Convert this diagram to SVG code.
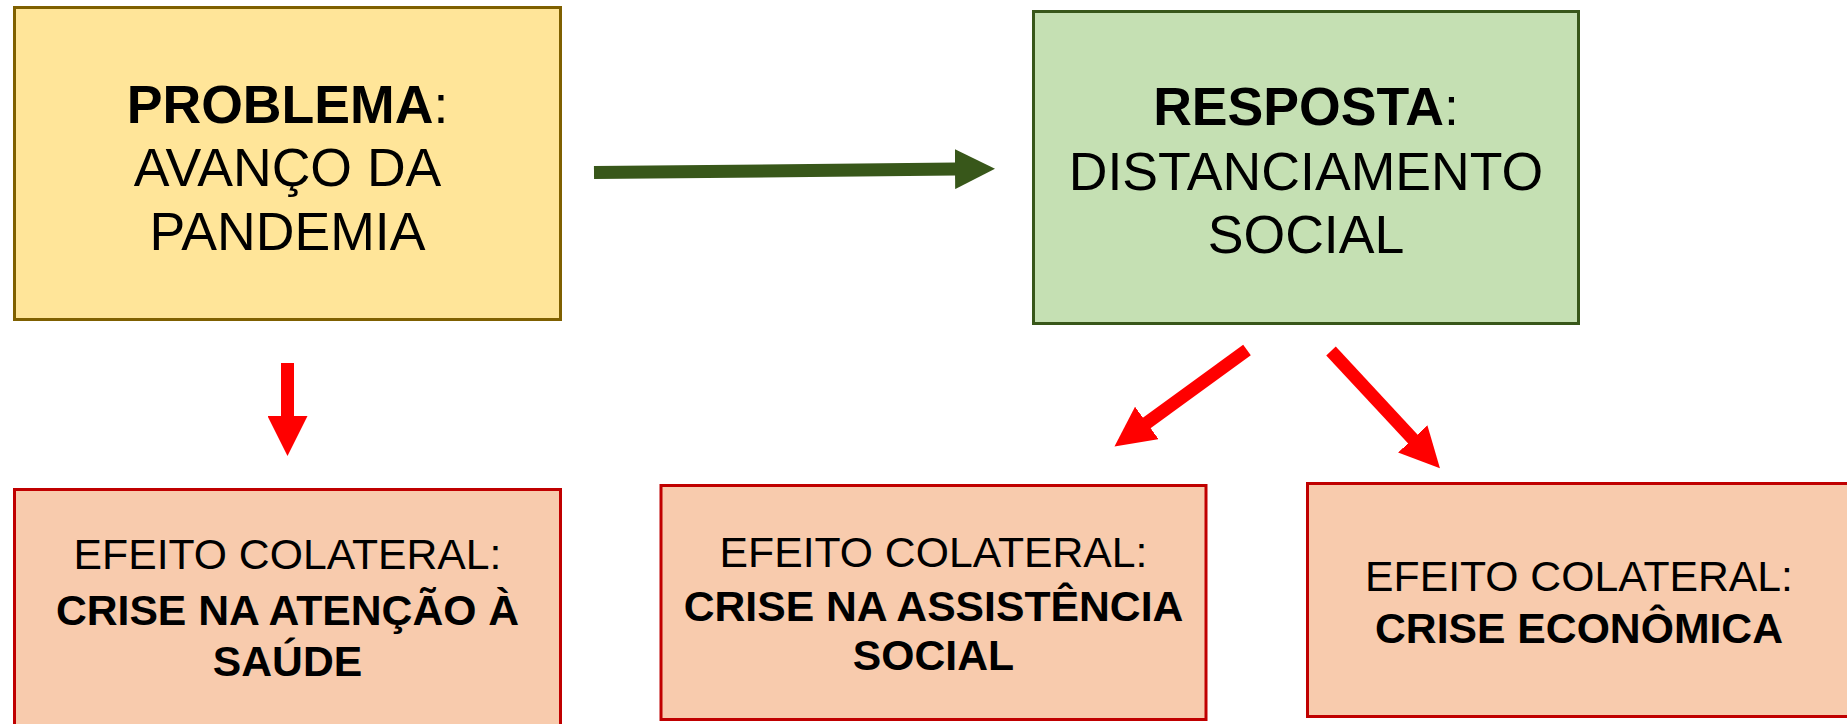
<svg xmlns="http://www.w3.org/2000/svg" width="1847" height="724" viewBox="0 0 1847 724">
<defs>
<style>
.t{font-family:"Liberation Sans",Arial,sans-serif;fill:#000;text-anchor:middle}
.big{font-size:53.6px}
.sm{font-size:42.7px}
.b{font-weight:bold}
.prob{fill:#FFE599;stroke:#7F6000;stroke-width:3}
.resp{fill:#C5E0B3;stroke:#38571A;stroke-width:3}
.ef{fill:#F8CBAD;stroke:#C00000;stroke-width:3}
.red{stroke:#FF0000;stroke-width:13;fill:none}
.grn{stroke:#38571A;stroke-width:13;fill:none}
</style>
<marker id="hr" viewBox="0 0 40 40" markerWidth="40" markerHeight="40" markerUnits="userSpaceOnUse" refX="1" refY="20" orient="auto">
<path d="M0,0 L40,20 L0,40 z" fill="#FF0000"/>
</marker>
<marker id="hg" viewBox="0 0 40 40" markerWidth="40" markerHeight="40" markerUnits="userSpaceOnUse" refX="1" refY="20" orient="auto">
<path d="M0,0 L40,20 L0,40 z" fill="#38571A"/>
</marker>
</defs>
<rect width="1847" height="724" fill="#fff"/>
<g id="problema">
<rect class="prob" x="14.5" y="7.5" width="546" height="312"/>
<text class="t big" x="287.5" y="122.5"><tspan class="b">PROBLEMA</tspan>:</text>
<text class="t big" x="287.5" y="186">AVANÇO DA</text>
<text class="t big" x="287.5" y="250">PANDEMIA</text>
</g>
<g id="resposta">
<rect class="resp" x="1033.5" y="11.5" width="545" height="312"/>
<text class="t big" x="1306" y="125"><tspan class="b">RESPOSTA</tspan>:</text>
<text class="t big" x="1306" y="190">DISTANCIAMENTO</text>
<text class="t big" x="1306" y="253">SOCIAL</text>
</g>
<g id="efeito-saude">
<rect class="ef" x="14.5" y="489.5" width="546" height="240"/>
<text class="t sm" x="287.5" y="569">EFEITO COLATERAL:</text>
<text class="t sm b" x="287.5" y="625">CRISE NA ATENÇÃO À</text>
<text class="t sm b" x="287.5" y="676">SAÚDE</text>
</g>
<g id="efeito-assistencia">
<rect class="ef" x="661" y="485.5" width="545" height="234"/>
<text class="t sm" x="933.5" y="567">EFEITO COLATERAL:</text>
<text class="t sm b" x="933.5" y="621">CRISE NA ASSISTÊNCIA</text>
<text class="t sm b" x="933.5" y="670">SOCIAL</text>
</g>
<g id="efeito-economica">
<rect class="ef" x="1307.5" y="483.5" width="546" height="233"/>
<text class="t sm" x="1579" y="591">EFEITO COLATERAL:</text>
<text class="t sm b" x="1579" y="643">CRISE ECONÔMICA</text>
</g>
<g id="connectors">
<line class="grn" x1="594" y1="172.5" x2="956" y2="169.1" marker-end="url(#hg)"/>
<line class="red" x1="287.5" y1="363" x2="287.5" y2="417" marker-end="url(#hr)"/>
<line class="red" x1="1247" y1="350" x2="1146" y2="423.5" marker-end="url(#hr)"/>
<line class="red" x1="1331" y1="351" x2="1413.4" y2="439.7" marker-end="url(#hr)"/>
</g>
</svg>
